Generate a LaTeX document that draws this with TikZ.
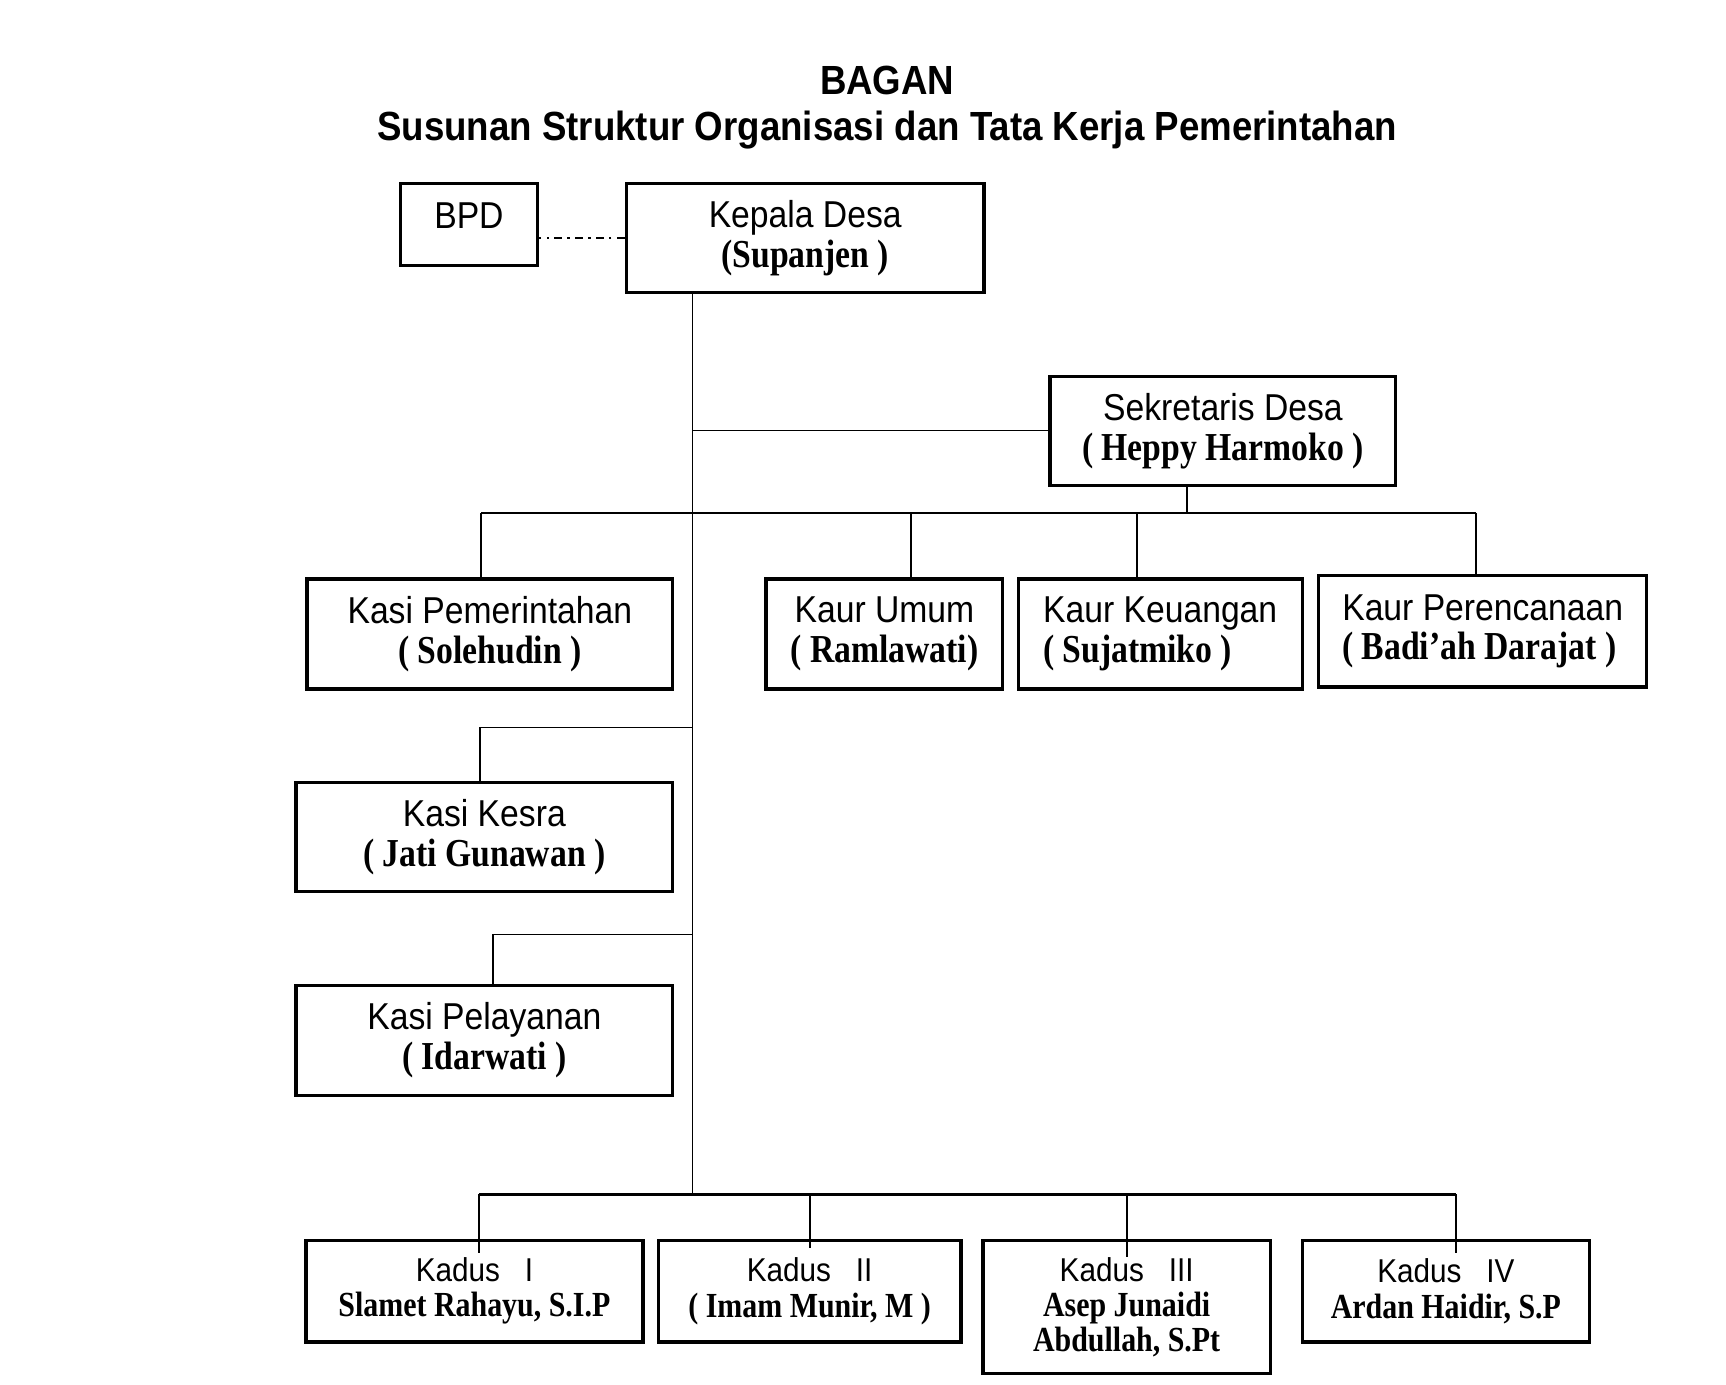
\documentclass[tikz,border=0pt]{standalone}
\usepackage{fontspec}
\setmainfont{Liberation Serif}[FakeStretch=0.9]
\setsansfont{Liberation Sans}[FakeStretch=0.9]
\newfontfamily\namafont{Liberation Serif}[FakeStretch=0.85]
\newcommand\pejabat[1]{{\namafont\bfseries\fontsize{36}{36}\selectfont #1}}
\newcommand\pejabatdusun[1]{{\namafont\bfseries\fontsize{32}{32}\selectfont #1}}
\tikzset{
  unit/.style={draw, line width=3pt, align=center, inner sep=0pt,
    font=\sffamily\fontsize{34}{36}\selectfont},
  dusun/.style={unit, font=\sffamily\fontsize{30}{32}\selectfont},
  link/.style={line width=1.6pt},
}
\begin{document}
\begin{tikzpicture}[x=1pt, y=-1pt]

  % Bounding box of the chart
  \useasboundingbox (0,0) rectangle (1568,1258);

  %%%%%%%%%%%%%%%%%%%%%%%%%%%%%%%%% Title %%%%%%%%%%%%%%%%%%%%%%%%%%%%%%%%%%%%
  \draw (806,73) node[font=\sffamily\bfseries\fontsize{37}{40}\selectfont] (judul) {BAGAN} ;
  \draw (806,118) node[font=\sffamily\bfseries\fontsize{37}{40}\selectfont] (subjudul)
    {Susunan Struktur Organisasi dan Tata Kerja Pemerintahan} ;

  %%%%%%%%%%%%%%%%%%%%%%%%%%%%%%%%% Boxes %%%%%%%%%%%%%%%%%%%%%%%%%%%%%%%%%%%%

  % Head of the village
  \draw (426,204) node[unit, minimum width=124, minimum height=74, text depth=16pt] (bpd) {BPD} ;
  \draw (731.5,216.5) node[unit, minimum width=325, minimum height=99] (kades)
    {Kepala Desa\\ \pejabat{(Supanjen )}} ;
  \draw (1111,391.5) node[unit, minimum width=314, minimum height=99] (sekdes)
    {Sekretaris Desa\\ \pejabat{( Heppy Harmoko )}} ;

  % Kasi and Kaur
  \draw (445,576) node[unit, minimum width=332, minimum height=100] (kasipem)
    {Kasi Pemerintahan\\ \pejabat{( Solehudin )}} ;
  \draw (803.5,576) node[unit, minimum width=215, minimum height=100] (kaurum)
    {Kaur Umum\\ \pejabat{( Ramlawati)}} ;
  \draw (1054,576) node[unit, minimum width=258, minimum height=100, align=left] (kaurkeu)
    {Kaur Keuangan\\ \pejabat{( Sujatmiko )}} ;
  \draw (1347,573.5) node[unit, minimum width=298, minimum height=101, align=left] (kaurren)
    {Kaur Perencanaan\\ \pejabat{( Badi’ah Darajat )}} ;
  \draw (440,760.5) node[unit, minimum width=342, minimum height=99] (kesra)
    {Kasi Kesra\\ \pejabat{( Jati Gunawan )}} ;
  \draw (440,945) node[unit, minimum width=342, minimum height=100] (pelayanan)
    {Kasi Pelayanan\\ \pejabat{( Idarwati )}} ;

  % Kadus
  \draw (431,1173) node[dusun, minimum width=306, minimum height=92] (kadus1)
    {Kadus~~~I\\ \pejabatdusun{Slamet Rahayu, S.I.P}} ;
  \draw (735.5,1173) node[dusun, minimum width=275, minimum height=92] (kadus2)
    {Kadus~~~II\\ \pejabatdusun{( Imam Munir, M )}} ;
  \draw (1023.5,1187.5) node[dusun, minimum width=261, minimum height=121] (kadus3)
    {Kadus~~~III\\ \pejabatdusun{Asep Junaidi}\\ \pejabatdusun{Abdullah, S.Pt}} ;
  \draw (1313.5,1173) node[dusun, minimum width=261, minimum height=92] (kadus4)
    {Kadus~~~IV\\ \pejabatdusun{Ardan Haidir, S.P}} ;

  %%%%%%%%%%%%%%%%%%%%%%%%%%%%%%%%% Junctions %%%%%%%%%%%%%%%%%%%%%%%%%%%%%%%%%%%%
  \coordinate (trunk) at (629,1085) ;
  \coordinate (jsek) at (629,391) ;
  \coordinate (jsb) at (1078,466) ;
  \coordinate (barL) at (437,466) ;
  \coordinate (barR) at (1341,466) ;
  \coordinate (jkes) at (629,661) ;
  \coordinate (kkes) at (436,661) ;
  \coordinate (jpel) at (629,849) ;
  \coordinate (kpel) at (448,849) ;
  \coordinate (dusunL) at (435,1085) ;
  \coordinate (dusunR) at (1323,1085) ;

  %%%%%%%%%%%%%%%%%%%%%%%%%%%%%%%%% Lines %%%%%%%%%%%%%%%%%%%%%%%%%%%%%%%%%%%%
  \draw[line width=1.6pt, dash pattern=on 7pt off 5pt on 2pt off 5pt] (kades.west) -- (kades.west -| bpd.east) ;
  \draw[link] (kades.south -| trunk) -- (trunk) ;
  \draw[link] (jsek) -- (sekdes.west |- jsek) ;
  \draw[link] (sekdes.south -| jsb) -- (jsb) ;
  \draw[link] (barL) -- (barR) ;
  \draw[link] (barL) -- (kasipem.north -| barL) ;
  \draw[link] (kaurum.north |- barL) ++(24pt,0) -- ([xshift=24pt]kaurum.north) ;
  \draw[link] (kaurkeu.north |- barL) ++(-21pt,0) -- ([xshift=-21pt]kaurkeu.north) ;
  \draw[link] (barR) -- (kaurren.north -| barR) ;
  \draw[link] (jkes) -- (kkes) -- (kesra.north -| kkes) ;
  \draw[link] (jpel) -- (kpel) -- (pelayanan.north -| kpel) ;

  % Bar of the kadus
  \draw[line width=3pt] (dusunL) -- (dusunR) ;
  \draw[link] (dusunL) -- ([xshift=4pt, yshift=-13pt]kadus1.north) ;
  \draw[link] (kadus2.north |- dusunL) -- ([yshift=-8pt]kadus2.north) ;
  \draw[link] (kadus3.north |- dusunL) -- ([yshift=-16pt]kadus3.north) ;
  \draw[link] (dusunR) -- ([xshift=9.5pt, yshift=-13pt]kadus4.north) ;

\end{tikzpicture}
\end{document}
